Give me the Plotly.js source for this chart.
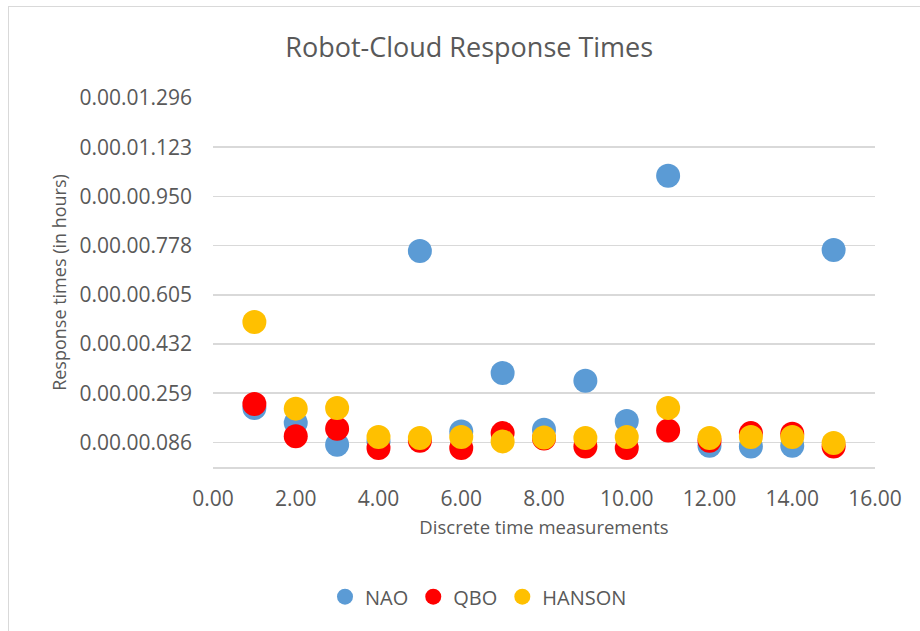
<!DOCTYPE html>
<html>
<head>
<meta charset="utf-8">
<script src="https://cdn.plot.ly/plotly-3.0.1.min.js"></script>
<style>
html,body{margin:0;padding:0;background:#fff;}
#wrap{position:relative;width:920px;height:631px;}
#chart{width:920px;height:631px;}
#frame{position:absolute;left:8px;top:6px;width:940px;height:700px;border-left:1.5px solid #d9d9d9;border-top:1.5px solid #d9d9d9;pointer-events:none;}
</style>
</head>
<body>
<div id="wrap"><div id="chart"></div><div id="frame"></div></div>
<script>
const measurements = [1,2,3,4,5,6,7,8,9,10,11,12,13,14,15];
const nao    = [0.207,0.155,0.078,0.090,0.759,0.125,0.330,0.131,0.303,0.162,1.023,0.075,0.072,0.075,0.762];
const qbo    = [0.221,0.108,0.134,0.067,0.092,0.067,0.119,0.100,0.072,0.067,0.128,0.092,0.119,0.117,0.072];
const hanson = [0.509,0.205,0.207,0.105,0.102,0.105,0.090,0.104,0.102,0.105,0.207,0.102,0.105,0.105,0.084];
const yTickVals = [0.0864,0.2592,0.432,0.6048,0.7776,0.9504,1.1232,1.296];
const yTickText = ['0.00.00.086','0.00.00.259','0.00.00.432','0.00.00.605','0.00.00.778','0.00.00.950','0.00.01.123','0.00.01.296'];
const xTickVals = [0,2,4,6,8,10,12,14,16];
const xTickText = ['0.00','2.00','4.00','6.00','8.00','10.00','12.00','14.00','16.00'];

const font = '"Open Sans", "Noto Sans", sans-serif';
const grey = '#595959';
function tr(name, y, color){
  return {type:'scatter', mode:'markers', name:name, x:measurements, y:y,
    marker:{size:24, color:color, line:{width:0}}, hoverinfo:'x+y'};
}
const data = [tr('NAO', nao, '#5B9BD5'), tr('QBO', qbo, '#FF0000'), tr('HANSON', hanson, '#FFC000')];
const layout = {
  width:920, height:631,
  margin:{l:213, r:45, t:98, b:164},
  paper_bgcolor:'#fff', plot_bgcolor:'#fff',
  font:{family:font, color:grey},
  title:{text:'Robot-Cloud Response Times', font:{size:27, color:grey, family:font},
    x:0.51, xref:'container', xanchor:'center', y:1-48/631, yref:'container', yanchor:'middle'},
  xaxis:{range:[0,16], tickvals:xTickVals, ticktext:xTickText, showgrid:false, zeroline:false,
    showline:true, linecolor:'#d9d9d9', linewidth:1.5, ticks:'', tickfont:{size:21, color:grey},
    ticklabelstandoff:12,
    title:{text:'Discrete time measurements', font:{size:18.5, color:grey}, standoff:10}},
  yaxis:{range:[0,1.296], tickvals:yTickVals, ticktext:yTickText, showgrid:true, gridcolor:'#d9d9d9', gridwidth:1.5,
    zeroline:false, showline:false, ticks:'', tickfont:{size:21, color:grey}, ticklabelstandoff:20,
    title:{text:'Response times (in hours)', font:{size:18, color:grey}, standoff:8}},
  showlegend:true,
  legend:{orientation:'h', x:(325-213)/662, xanchor:'left', y:(467.3-597)/369, yanchor:'middle',
    font:{size:20, color:grey}, itemgap:0, bgcolor:'rgba(0,0,0,0)'},
};
Plotly.newPlot('chart', data, layout, {displayModeBar:false, staticPlot:true});
</script>
</body>
</html>
